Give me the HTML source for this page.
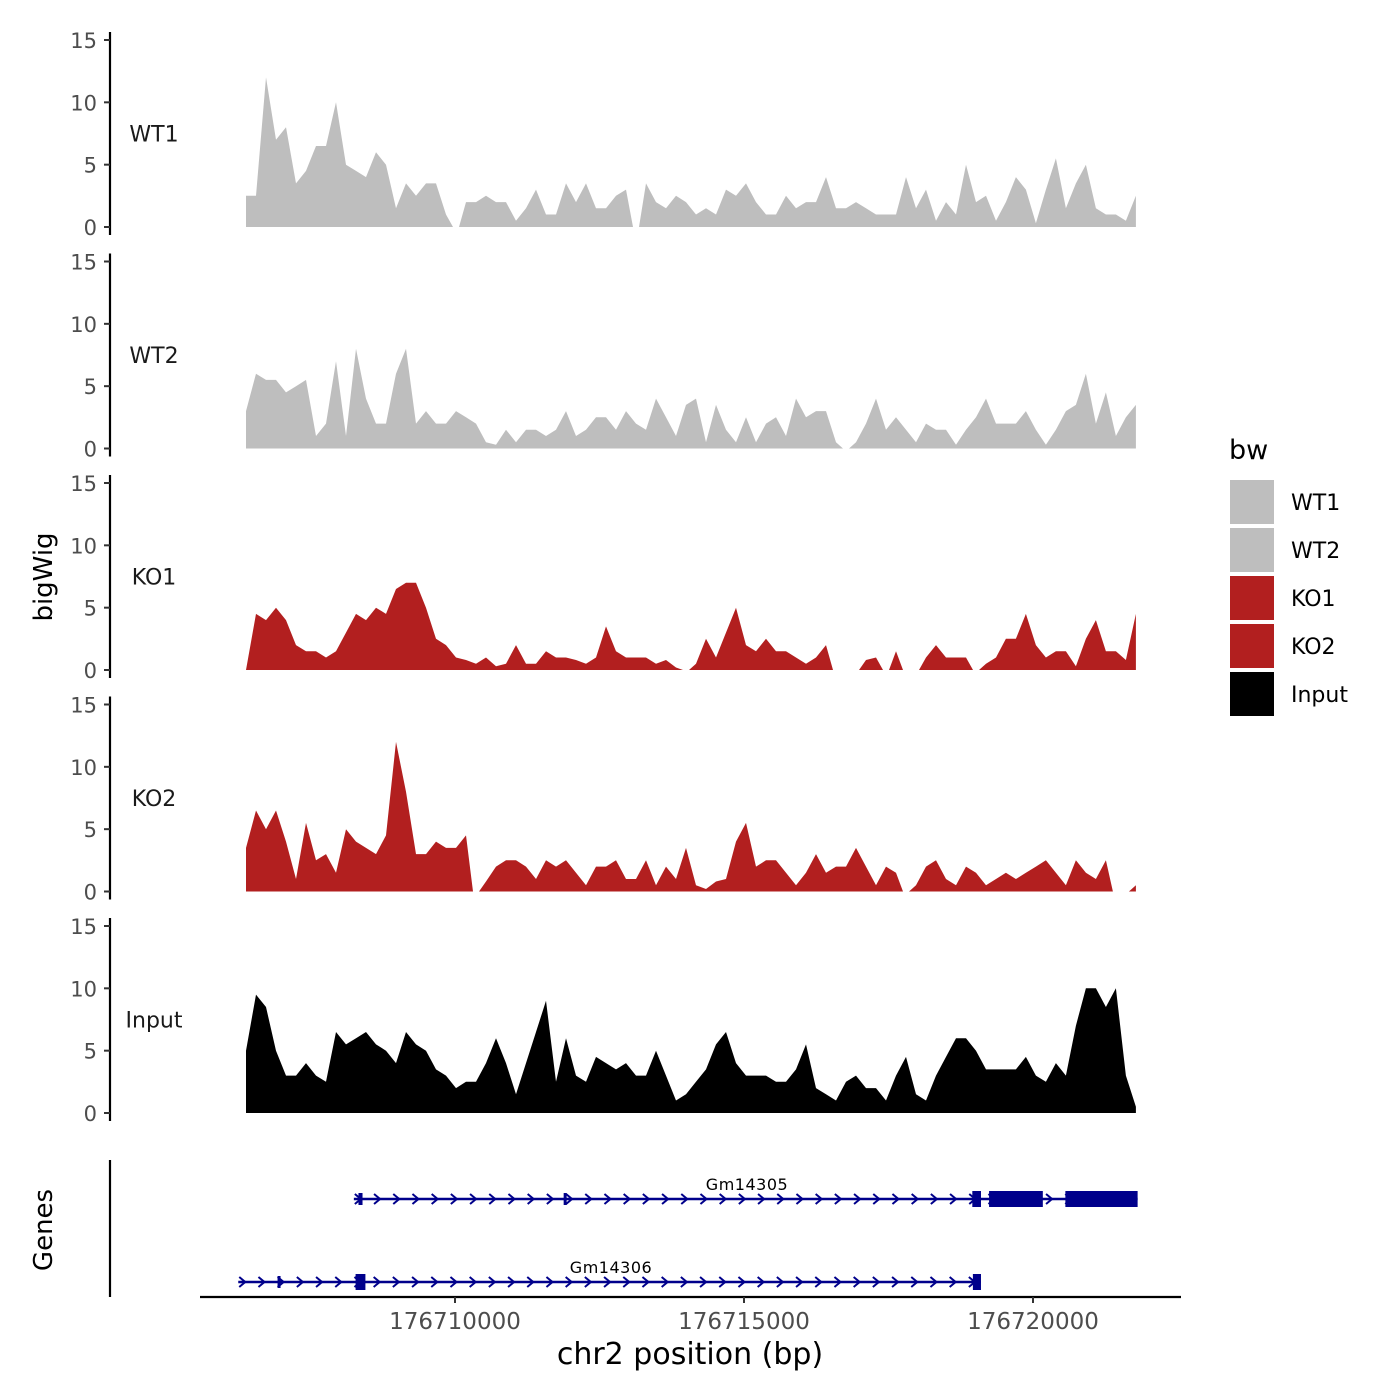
<!DOCTYPE html>
<html><head><meta charset="utf-8"><style>
html,body{margin:0;padding:0;background:#fff;}
svg{display:block;font-family:"DejaVu Sans","Liberation Sans",sans-serif;}
</style></head><body>
<svg id="chart" width="1400" height="1400" viewBox="0 0 1400 1400" xmlns="http://www.w3.org/2000/svg">
<g id="tracks"></g>
<g id="genes"></g>
<g id="legend"></g>
<text x="0" y="0" transform="translate(52,577) rotate(-90)" text-anchor="middle" font-size="26" fill="#000">bigWig</text>
<text x="0" y="0" transform="translate(52,1230) rotate(-90)" text-anchor="middle" font-size="26" fill="#000">Genes</text>
<text x="690" y="1364" text-anchor="middle" font-size="30" fill="#000">chr2 position (bp)</text>
</svg>
<script>
const trackNames = ["WT1","WT2","KO1","KO2","Input"];
const trackColors = ["#bebebe","#bebebe","#b21f1f","#b21f1f","#000000"];
const binStart = 176706384;
const binSize = 173;
const wt1 = [2.5,2.5,12,7,8,3.5,4.5,6.5,6.5,10,5,4.5,4,6,5,1.5,3.5,2.5,3.5,3.5,1,null,2,2,2.5,2,2,0.5,1.5,3,1,1,3.5,2,3.5,1.5,1.5,2.5,3,null,3.5,2,1.5,2.5,2,1,1.5,1,3,2.5,3.5,2,1,1,2.5,1.5,2,2,4,1.5,1.5,2,1.5,1,1,1,4,1.5,3,0.5,2,1,5,2,2.5,0.5,2,4,3,0.3,3,5.5,1.5,3.5,5,1.5,1,1,0.5,2.5];
const wt2 = [3,6,5.5,5.5,4.5,5,5.5,1,2,7,1,8,4,2,2,6,8,2,3,2,2,3,2.5,2,0.5,0.3,1.5,0.5,1.5,1.5,1,1.5,3,1,1.5,2.5,2.5,1.5,3,2,1.5,4,2.5,1,3.5,4,0.5,3.5,1.5,0.5,2.5,0.5,2,2.5,1,4,2.5,3,3,0.5,null,0.5,2,4,1.5,2.5,1.5,0.5,2,1.5,1.5,0.3,1.5,2.5,4,2,2,2,3,1.5,0.3,1.5,3,3.5,6,2,4.5,1,2.5,3.5];
const ko1 = [0,4.5,4,5,4,2,1.5,1.5,1,1.5,3,4.5,4,5,4.5,6.5,7,7,5,2.5,2,1,0.8,0.5,1,0.3,0.5,2,0.5,0.5,1.5,1,1,0.8,0.5,1,3.5,1.5,1,1,1,0.5,0.8,0.2,null,0.5,2.5,1,3,5,2,1.5,2.5,1.5,1.5,1,0.5,1,2,null,null,null,0.8,1,null,1.5,null,null,1,2,1,1,1,null,0.5,1,2.5,2.5,4.5,2,1,1.5,1.5,0.3,2.5,4,1.5,1.5,0.8,4.5];
const ko2 = [3.5,6.5,5,6.5,4,1,5.5,2.5,3,1.5,5,4,3.5,3,4.5,12,8,3,3,4,3.5,3.5,4.5,null,0.8,2,2.5,2.5,2,1,2.5,2,2.5,1.5,0.5,2,2,2.5,1,1,2.5,0.5,2,1,3.5,0.5,0.2,0.8,1,4,5.5,2,2.5,2.5,1.5,0.5,1.5,3,1.5,2,2,3.5,2,0.5,2,1.5,null,0.5,2,2.5,1,0.5,2,1.5,0.5,1,1.5,1,1.5,2,2.5,1.5,0.5,2.5,1.5,1,2.5,null,null,0.5];
const input = [5,9.5,8.5,5,3,3,4,3,2.5,6.5,5.5,6,6.5,5.5,5,4,6.5,5.5,5,3.5,3,2,2.5,2.5,4,6,4,1.5,4,6.5,9,2.5,6,3,2.5,4.5,4,3.5,4,3,3,5,3,1,1.5,2.5,3.5,5.5,6.5,4,3,3,3,2.5,2.5,3.5,5.5,2,1.5,1,2.5,3,2,2,1,3,4.5,1.5,1,3,4.5,6,6,5,3.5,3.5,3.5,3.5,4.5,3,2.5,4,3,7,10,10,8.5,10,3,0.5];
const trackData = [wt1,wt2,ko1,ko2,input];
const yTicks = [0,5,10,15];
const xTicks = [176710000,176715000,176720000];
const geneNames = ["Gm14305","Gm14306"];
const geneStarts = [176708250,176706250];
const geneEnds = [176721810,176719100];
const geneExonStarts = [[176708330,176711880,176718950,176719240,176720560],[176706930,176708280,176718960]];
const geneExonEnds = [[176708400,176711910,176719100,176720170,176721810],[176706970,176708450,176719100]];
const geneExonThick = [[0,0,1,1,1],[0,1,1]];

const NS="http://www.w3.org/2000/svg";
function mk(tag,attrs,parent){const e=document.createElementNS(NS,tag);for(const k in attrs)e.setAttribute(k,attrs[k]);parent.appendChild(e);return e;}
function xScale(bp){return 455+(bp-176710000)*0.0578;}
const panelTop0=40, panelStep=221.5, panelH=187;
function yScale(i,v){return panelTop0+i*panelStep+panelH-v*(panelH/15);}

const tracks=document.getElementById('tracks');
trackData.forEach((arr,i)=>{
  const g=mk('g',{},tracks);
  
  
  const y0=yScale(i,0);
  let seg=[]; const segs=[];
  arr.forEach((v,j)=>{
    const x=xScale(binStart+j*binSize);
    if(v===null){ if(seg.length){seg.push([x-3,0]);segs.push(seg);} seg=[[x+3,0]]; }
    else seg.push([x,v]);
  });
  if(seg.length)segs.push(seg);
  segs.forEach(s=>{
    let d='M'+s[0][0].toFixed(1)+','+y0;
    s.forEach(p=>{d+=' L'+p[0].toFixed(1)+','+yScale(i,p[1]).toFixed(1);});
    d+=' L'+s[s.length-1][0].toFixed(1)+','+y0+' Z';
    const p=mk('path',{d:d,fill:trackColors[i]},g);
    
    
  });
  const ax=mk('line',{x1:110,x2:110,y1:yScale(i,15)-8,y2:y0+8,stroke:'#000','stroke-width':2.2},g);
  
  
  yTicks.forEach(t=>{
    const yy=yScale(i,t);
    const tk=mk('line',{x1:104,x2:110,y1:yy,y2:yy,stroke:'#333','stroke-width':2},g);
    
    
    const tl=mk('text',{x:97,y:yy+8,'text-anchor':'end','font-size':21,fill:'#4d4d4d'},g);
    tl.textContent=t;
    
    
  });
  const lab=mk('text',{x:154,y:yScale(i,7)+2,'text-anchor':'middle','font-size':22,fill:'#1a1a1a'},g);
  lab.textContent=trackNames[i];
  
  
});

const gp=document.getElementById('genes');
const gax=mk('line',{x1:110,x2:110,y1:1160,y2:1297,stroke:'#000','stroke-width':2.2},gp);


const xax=mk('line',{x1:200,x2:1181,y1:1297,y2:1297,stroke:'#000','stroke-width':2.2},gp);


xTicks.forEach(t=>{
  const x=xScale(t);
  const tk=mk('line',{x1:x,x2:x,y1:1297,y2:1303,stroke:'#333','stroke-width':2},gp);
  
  
  const tl=mk('text',{x:x,y:1329,'text-anchor':'middle','font-size':23,fill:'#4d4d4d'},gp);
  tl.textContent=t;
  
  
});
const geneY=[1199,1282];
geneNames.forEach((name,k)=>{
  const g=mk('g',{},gp);
  
  
  const x1=xScale(geneStarts[k]), x2=xScale(geneEnds[k]), y=geneY[k];
  mk('line',{x1:x1,x2:x2,y1:y,y2:y,stroke:'#00008b','stroke-width':2.5},g);
  for(let x=x1+4;x<x2-4;x+=19.2){
    mk('polyline',{points:(x-3)+','+(y-5)+' '+(x+3)+','+y+' '+(x-3)+','+(y+5),fill:'none',stroke:'#00008b','stroke-width':2},g);
  }
  geneExonStarts[k].forEach((s,m)=>{
    const a=xScale(s), b=xScale(geneExonEnds[k][m]);
    const h=geneExonThick[k][m]?16:12;
    const r=mk('rect',{x:a,y:y-h/2,width:Math.max(b-a,3),height:h,fill:'#00008b'},g);
    
    
  });
  const t=mk('text',{x:(k===0?747:611),y:y-9,'text-anchor':'middle','font-size':16,fill:'#000','letter-spacing':'0.5'},g);
  t.textContent=name;
  
  
});

const lg=document.getElementById('legend');
const lt=mk('text',{x:1229,y:459,'font-size':27,fill:'#000'},lg);
lt.textContent='bw';


trackNames.forEach((n,i)=>{
  const g=mk('g',{},lg);
  
  
  mk('rect',{x:1230,y:480+i*48,width:44,height:44,fill:trackColors[i]},g);
  const t=mk('text',{x:1291,y:510+i*48,'font-size':22,fill:'#000'},g);
  t.textContent=n;
});
</script>
</body></html>
